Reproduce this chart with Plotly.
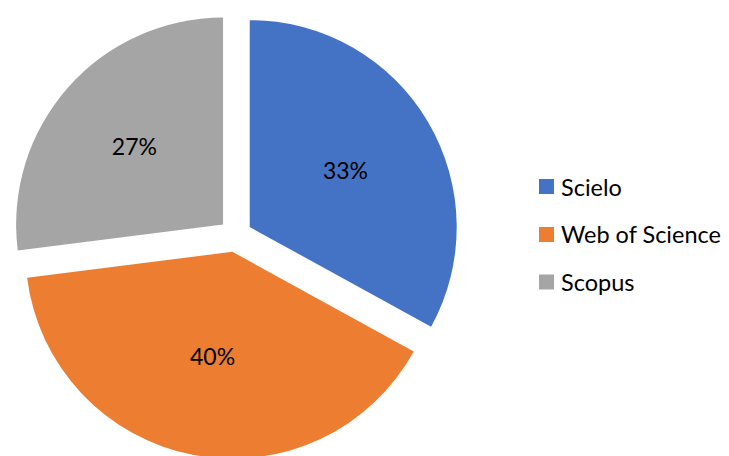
import plotly.graph_objects as go

categories = ["Scielo", "Web of Science", "Scopus"]
values = [33, 40, 27]
colors = ["#4472C4", "#ED7D31", "#A5A5A5"]

FONT = "Lato"
T, B = 4, 5
H = 456
PH = H - T - B

fig = go.Figure()
fig.add_trace(go.Pie(
    labels=categories,
    values=values,
    marker=dict(colors=colors, line=dict(width=0)),
    sort=False,
    direction="clockwise",
    rotation=0,
    pull=[0.08, 0.08, 0.08],
    textinfo="percent",
    texttemplate="%{percent:.0%}",
    textposition="inside",
    insidetextorientation="horizontal",
    textfont=dict(family=FONT, size=23, color="#000000"),
    domain=dict(x=[0, 455 / 729], y=[0, 1]),
    showlegend=False,
))

# manual legend built from the category list (page body adds ~8px offset)
leg_x0 = 531
leg_y = [178.5, 226.5, 274]
for i, (cat, col) in enumerate(zip(categories, colors)):
    fig.add_shape(type="rect", xref="paper", yref="paper",
                  x0=leg_x0 / 729, x1=(leg_x0 + 15) / 729,
                  y0=1 - (leg_y[i] + 7.5 - T) / PH, y1=1 - (leg_y[i] - 7.5 - T) / PH,
                  fillcolor=col, line=dict(width=0))
    fig.add_annotation(xref="paper", yref="paper",
                       x=551 / 729, y=1 - (leg_y[i] - T) / PH,
                       xanchor="left", yanchor="middle", showarrow=False,
                       text=cat, font=dict(family=FONT, size=23.5, color="#000000"))

fig.update_layout(
    width=729, height=H,
    margin=dict(l=0, r=0, t=T, b=B),
    paper_bgcolor="white", plot_bgcolor="white",
)

fig.write_html("out.html")
